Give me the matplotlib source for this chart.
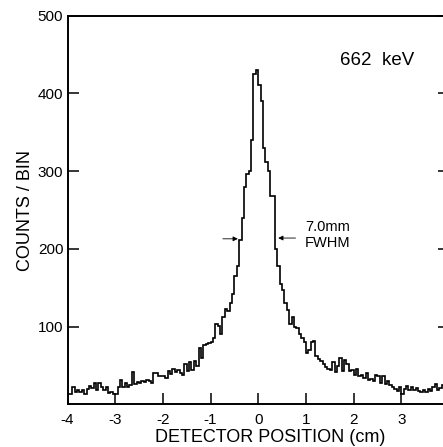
import numpy as np
import matplotlib
matplotlib.use("Agg")
import matplotlib.pyplot as plt

plt.rcParams['font.family'] = ['Liberation Sans', 'DejaVu Sans']
plt.rcParams['axes.unicode_minus'] = False

# Histogram: detector position (cm) bins, counts per bin
bin_start = -4.0
bin_width = 0.05
counts = [
    13, 14, 22, 16, 18, 16, 19, 14, 20, 24, 21, 27, 18, 28, 22, 18, 23, 15, 16, 14,
    13, 22, 31, 22, 27, 23, 25, 42, 26, 29, 28, 30, 29, 31, 30, 28, 40, 41, 37, 36,
    37, 34, 43, 39, 45, 42, 44, 41, 38, 52, 43, 54, 44, 56, 50, 72, 60, 76, 78, 79,
    80, 86, 103, 101, 90, 112, 123, 120, 130, 142, 165, 178, 212, 240, 280, 297, 300, 340, 425, 430,
    411, 390, 330, 312, 300, 268, 268, 200, 178, 155, 147, 130, 122, 104, 112, 100, 98, 91, 86, 80,
    66, 70, 80, 82, 62, 58, 56, 52, 48, 46, 44, 54, 42, 50, 60, 43, 57, 52, 43, 44,
    38, 45, 36, 38, 34, 40, 31, 33, 30, 38, 37, 28, 36, 26, 30, 25, 22, 20, 17, 22,
    14, 20, 24, 19, 22, 18, 21, 17, 16, 19, 16, 20, 17, 22, 26, 18, 21, 25, 23, 20,
]
edges = bin_start + bin_width * np.arange(len(counts) + 1)

x_ticks = [-4, -3, -2, -1, 0, 1, 2, 3, 4]
x_ticklabels = ['-4', '-3', '-2', '-1', '0', '1', '2', '3', '4']
y_ticks = [100, 200, 300, 400, 500]
y_ticklabels = ['100', '200', '300', '400', '500']

fig = plt.figure(figsize=(4.43, 4.47), dpi=100)
ax = fig.add_axes([67.5 / 443, 1 - 404.4 / 447, (449 - 67.5) / 443, (404.4 - 15.7) / 447])

ax.stairs(counts, edges, color='black', lw=1.2)

ax.set_xlim(-4, 4)
ax.set_ylim(0, 500)
ax.set_xticks(x_ticks)
ax.set_xticklabels(x_ticklabels)
ax.set_yticks(y_ticks)
ax.set_yticklabels(y_ticklabels)

for s in ax.spines.values():
    s.set_linewidth(1.4)

ax.tick_params(axis='x', direction='in', length=8, width=1.1, pad=6, labelsize=11)
ax.tick_params(axis='y', direction='in', length=8, width=1.1, pad=3, labelsize=11,
               right=True, labelright=False)

ax.set_ylabel('COUNTS / BIN', fontsize=13, labelpad=3)
ax.set_xlabel('DETECTOR POSITION (cm)', fontsize=13)
ax.xaxis.set_label_coords(0.53, -0.064)

ax.text(1.72, 442, '662  keV', fontsize=13.5, ha='left', va='center')
ax.text(0.98, 228, '7.0mm', fontsize=10.5, ha='left', va='center')
ax.text(0.98, 208, 'FWHM', fontsize=10.5, ha='left', va='center')

arrow = dict(arrowstyle='-|>', lw=0.6, color='black', mutation_scale=7)
ax.annotate('', xy=(-0.37, 213), xytext=(-0.80, 213), arrowprops=arrow)
ax.annotate('', xy=(0.36, 214), xytext=(0.84, 214), arrowprops=arrow)

fig.savefig('out.png', dpi=100)
